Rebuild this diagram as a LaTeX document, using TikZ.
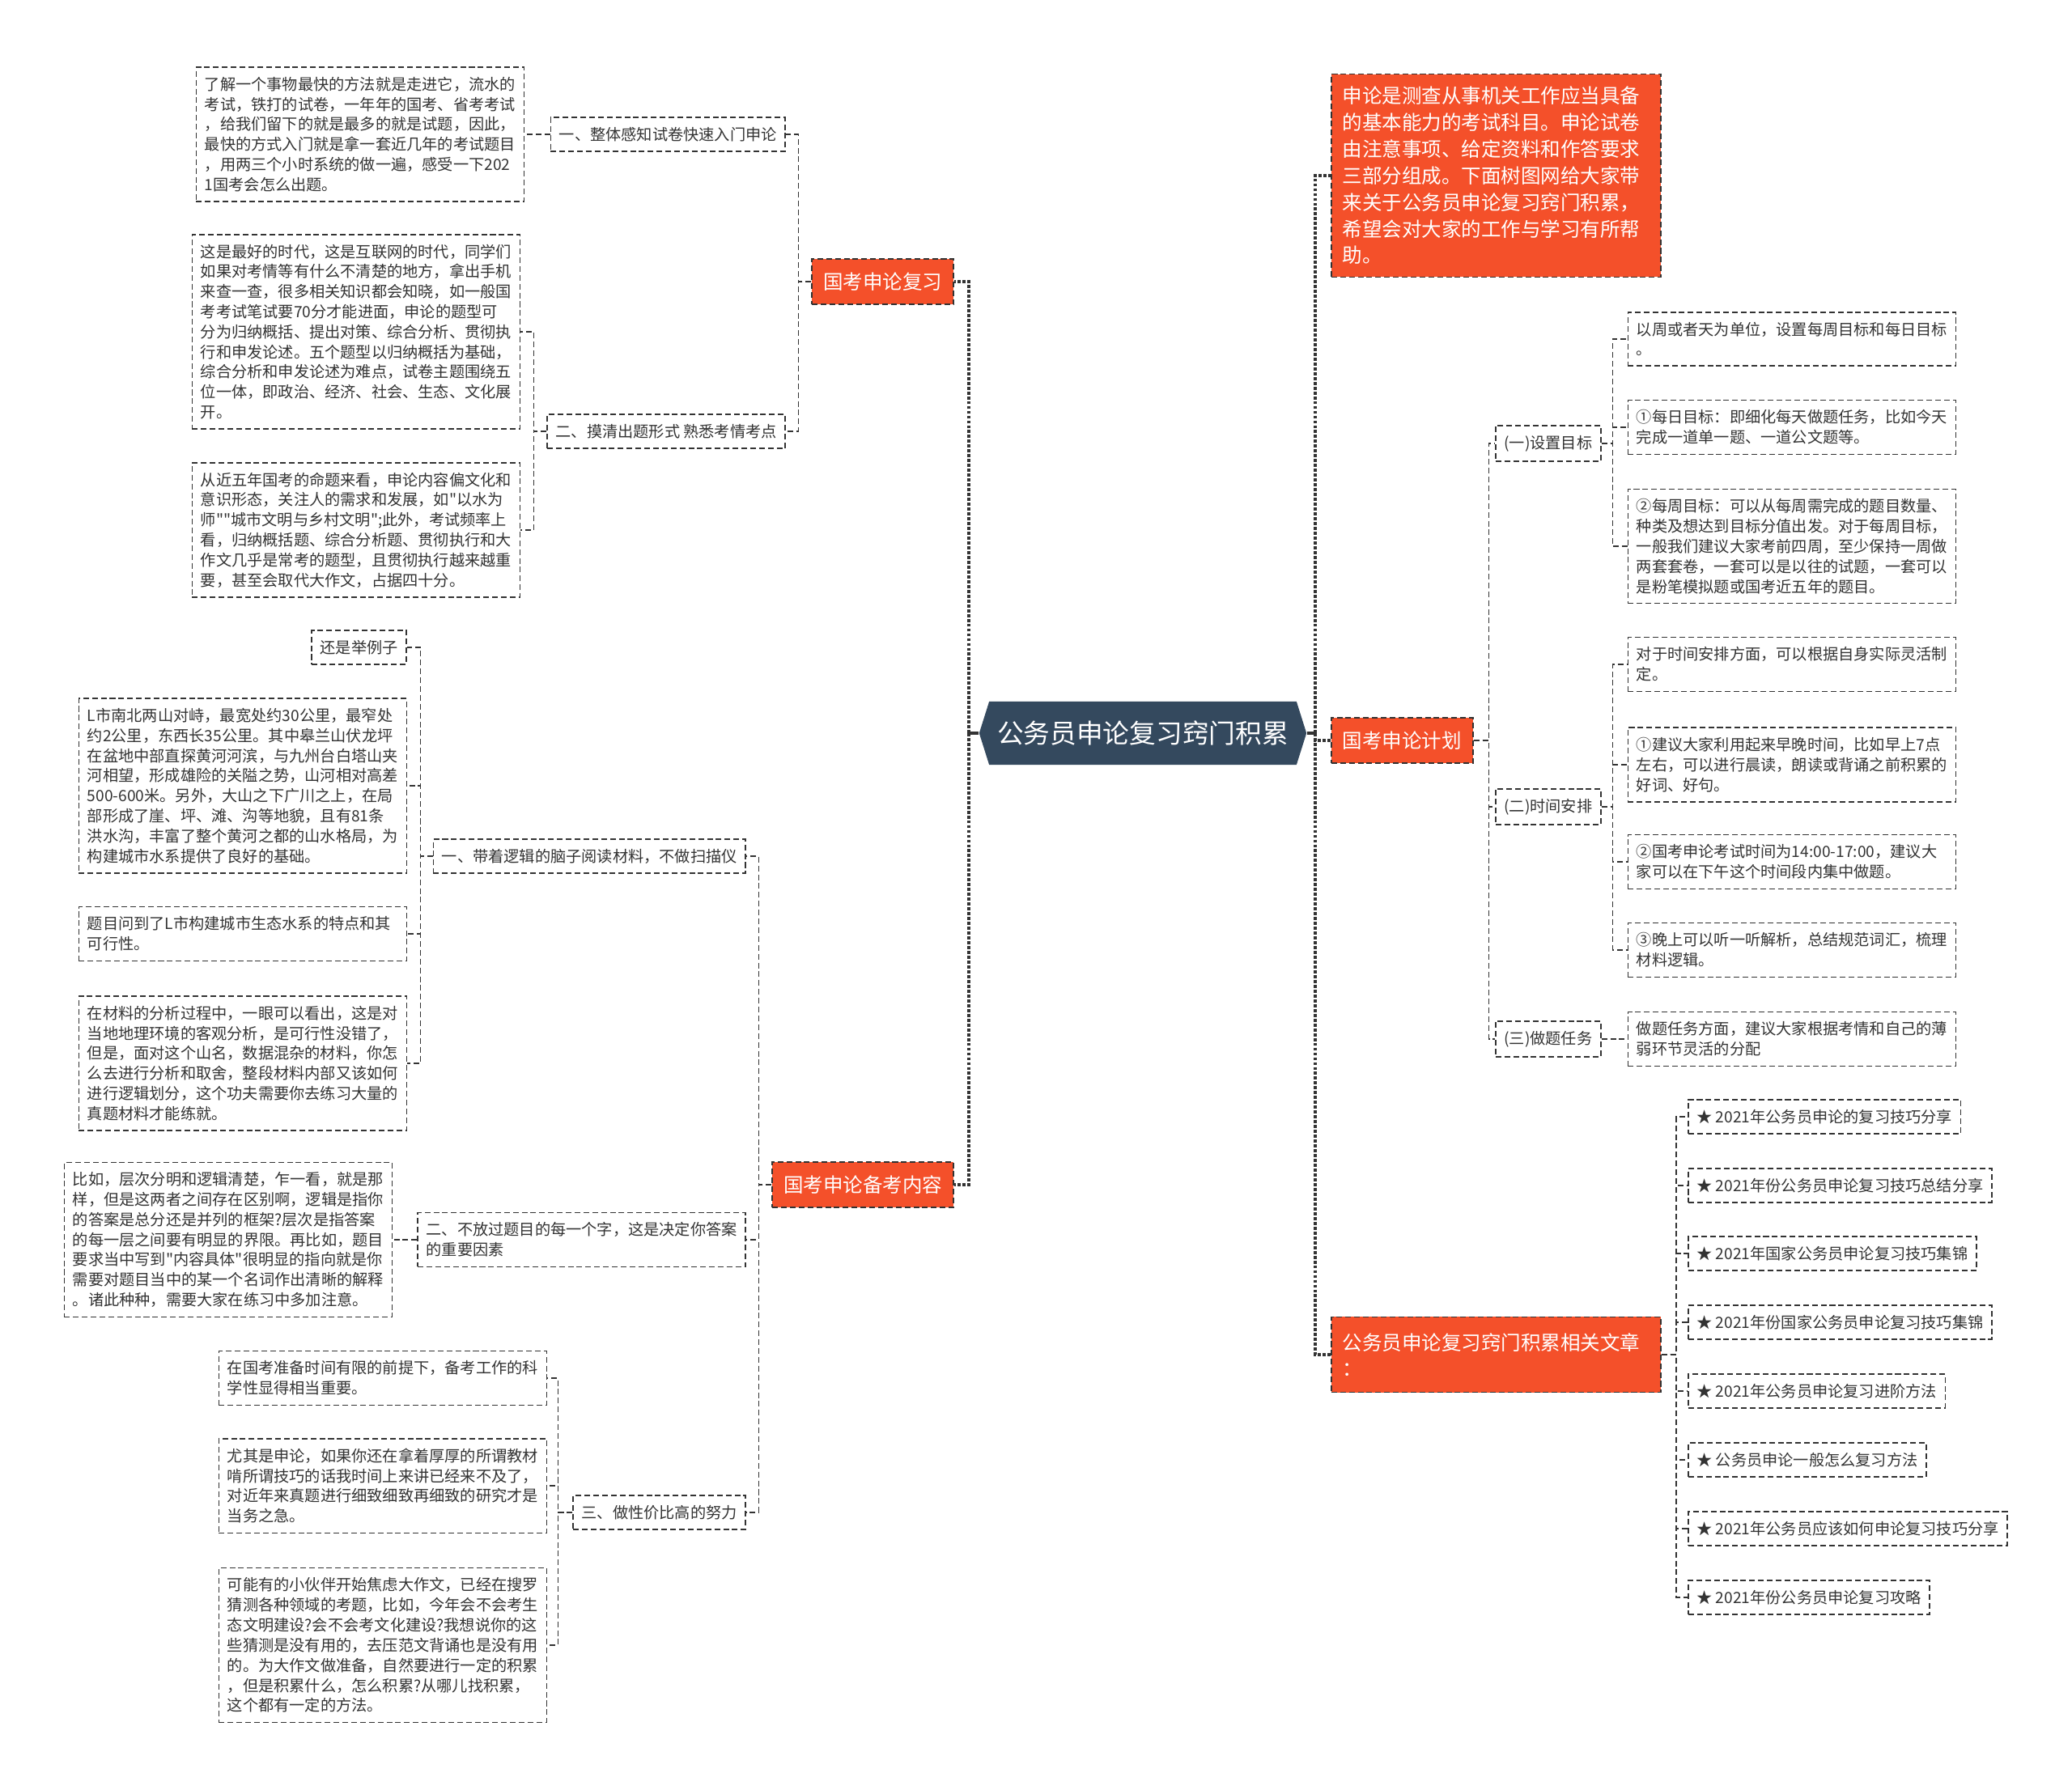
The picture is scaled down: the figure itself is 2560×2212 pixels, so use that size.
\documentclass[tikz,border=0pt]{standalone}
\usepackage{fontspec}
\setmainfont{Noto Sans CJK SC}[Ligatures=TeXOff]
\usetikzlibrary{shapes.symbols}
\definecolor{ink}{HTML}{333333}
\definecolor{flame}{HTML}{F4502A}
\definecolor{slate}{HTML}{34495E}
\newcommand\leaffont{\fontsize{5.46pt}{7.06pt}\selectfont}
\newcommand\headfont{\fontsize{6.97pt}{9.33pt}\selectfont}
\newcommand\rootfont{\fontsize{9.3pt}{11pt}\selectfont}
\tikzset{
  box/.style={draw=ink,line width=0.45pt,dash pattern=on 2pt off 1.1pt,text=ink,font=\leaffont,align=left,inner xsep=1.05mm,inner ysep=1.2mm},
  leaf/.style={box,text width=3.84cm},
  head/.style={box,fill=flame,text=white,font=\headfont,inner xsep=1.4mm,minimum height=0.56cm},
  wide/.style={head,text width=3.79cm,inner ysep=1.55mm},
  root/.style={signal,signal to=east and west,signal pointer angle=145,fill=slate,text=white,font=\rootfont,minimum width=3.97cm,minimum height=0.78cm,inner xsep=1mm},
  conn/.style={draw=ink,line width=0.45pt,dash pattern=on 2pt off 1.1pt},
  trunk/.style={draw=ink,line width=0.9pt,dash pattern=on 1.1pt off 0.6pt}
}
\begin{document}
\begin{tikzpicture}[x=0.01cm,y=-0.01cm]
  \useasboundingbox[fill=white] (0,0) rectangle (2560,2212);
  \node[root] (c) at (1412,906) {公务员申论复习窍门积累};
  \coordinate (lj) at (1197,906);
  \coordinate (rj) at (1625,906);

  % left half
  \node[head,anchor=east] (b1) at (1179,348) {国考申论复习};
  \node[head,anchor=east] (b2) at (1179,1464) {国考申论备考内容};

  \node[box,anchor=east] (s1) at (971,166) {一、整体感知试卷快速入门申论};
  \node[box,anchor=east] (s2) at (971,533) {二、摸清出题形式 熟悉考情考点};
  \node[leaf] (a1) at (445,166)
    {了解一个事物最快的方法就是走进它，流水的\\考试，铁打的试卷，一年年的国考、省考考试\\，给我们留下的就是最多的就是试题，因此，\\最快的方式入门就是拿一套近几年的考试题目\\，用两三个小时系统的做一遍，感受一下202\\1国考会怎么出题。};
  \node[leaf] (a2) at (440,410)
    {这是最好的时代，这是互联网的时代，同学们\\如果对考情等有什么不清楚的地方，拿出手机\\来查一查，很多相关知识都会知晓，如一般国\\考考试笔试要70分才能进面，申论的题型可\\分为归纳概括、提出对策、综合分析、贯彻执\\行和申发论述。五个题型以归纳概括为基础，\\综合分析和申发论述为难点，试卷主题围绕五\\位一体，即政治、经济、社会、生态、文化展\\开。};
  \node[leaf] (a3) at (440,655)
    {从近五年国考的命题来看，申论内容偏文化和\\意识形态，关注人的需求和发展，如"以水为\\师""城市文明与乡村文明";此外，考试频率上\\看，归纳概括题、综合分析题、贯彻执行和大\\作文几乎是常考的题型，且贯彻执行越来越重\\要，甚至会取代大作文，占据四十分。};

  \node[box,anchor=east] (t1) at (922,1058) {一、带着逻辑的脑子阅读材料，不做扫描仪};
  \node[box,anchor=east] (t2) at (922,1532) {二、不放过题目的每一个字，这是决定你答案\\的重要因素};
  \node[box,anchor=east] (t3) at (922,1869) {三、做性价比高的努力};
  \node[box,anchor=east] (m1) at (503,800) {还是举例子};
  \node[leaf] (m2) at (300,971)
    {L市南北两山对峙，最宽处约30公里，最窄处\\约2公里，东西长35公里。其中皋兰山伏龙坪\\在盆地中部直探黄河河滨，与九州台白塔山夹\\河相望，形成雄险的关隘之势，山河相对高差\\500-600米。另外，大山之下广川之上，在局\\部形成了崖、坪、滩、沟等地貌，且有81条\\洪水沟，丰富了整个黄河之都的山水格局，为\\构建城市水系提供了良好的基础。};
  \node[leaf] (m3) at (300,1154)
    {题目问到了L市构建城市生态水系的特点和其\\可行性。};
  \node[leaf] (m4) at (300,1314)
    {在材料的分析过程中，一眼可以看出，这是对\\当地地理环境的客观分析，是可行性没错了，\\但是，面对这个山名，数据混杂的材料，你怎\\么去进行分析和取舍，整段材料内部又该如何\\进行逻辑划分，这个功夫需要你去练习大量的\\真题材料才能练就。};
  \node[leaf] (m5) at (282,1532)
    {比如，层次分明和逻辑清楚，乍一看，就是那\\样，但是这两者之间存在区别啊，逻辑是指你\\的答案是总分还是并列的框架?层次是指答案\\的每一层之间要有明显的界限。再比如，题目\\要求当中写到"内容具体"很明显的指向就是你\\需要对题目当中的某一个名词作出清晰的解释\\。诸此种种，需要大家在练习中多加注意。};
  \node[leaf] (m6) at (473,1703)
    {在国考准备时间有限的前提下，备考工作的科\\学性显得相当重要。};
  \node[leaf] (m7) at (473,1836)
    {尤其是申论，如果你还在拿着厚厚的所谓教材\\啃所谓技巧的话我时间上来讲已经来不及了，\\对近年来真题进行细致细致再细致的研究才是\\当务之急。};
  \node[leaf] (m8) at (473,2033)
    {可能有的小伙伴开始焦虑大作文，已经在搜罗\\猜测各种领域的考题，比如，今年会不会考生\\态文明建设?会不会考文化建设?我想说你的这\\些猜测是没有用的，去压范文背诵也是没有用\\的。为大作文做准备，自然要进行一定的积累\\，但是积累什么，怎么积累?从哪儿找积累，\\这个都有一定的方法。};

  % right half
  \node[wide,anchor=west] (intro) at (1644,217)
    {申论是测查从事机关工作应当具备\\的基本能力的考试科目。申论试卷\\由注意事项、给定资料和作答要求\\三部分组成。下面树图网给大家带\\来关于公务员申论复习窍门积累，\\希望会对大家的工作与学习有所帮\\助。};
  \node[head,anchor=west] (b3) at (1644,915) {国考申论计划};
  \node[wide,anchor=west,minimum height=0.93cm] (b4) at (1644,1674) {公务员申论复习窍门积累相关文章\\：};

  \node[box,anchor=west] (p1) at (1847,548) {(一)设置目标};
  \node[box,anchor=west] (p2) at (1847,997) {(二)时间安排};
  \node[box,anchor=west] (p3) at (1847,1284) {(三)做题任务};
  \node[leaf] (q1) at (2214,419) {以周或者天为单位，设置每周目标和每日目标\\。};
  \node[leaf] (q2) at (2214,528) {①每日目标：即细化每天做题任务，比如今天\\完成一道单一题、一道公文题等。};
  \node[leaf] (q3) at (2214,675)
    {②每周目标：可以从每周需完成的题目数量、\\种类及想达到目标分值出发。对于每周目标，\\一般我们建议大家考前四周，至少保持一周做\\两套套卷，一套可以是以往的试题，一套可以\\是粉笔模拟题或国考近五年的题目。};
  \node[leaf] (q4) at (2214,821) {对于时间安排方面，可以根据自身实际灵活制\\定。};
  \node[leaf] (q5) at (2214,945) {①建议大家利用起来早晚时间，比如早上7点\\左右，可以进行晨读，朗读或背诵之前积累的\\好词、好句。};
  \node[leaf] (q6) at (2214,1065) {②国考申论考试时间为14:00-17:00，建议大\\家可以在下午这个时间段内集中做题。};
  \node[leaf] (q7) at (2214,1174) {③晚上可以听一听解析，总结规范词汇，梳理\\材料逻辑。};
  \node[leaf] (q8) at (2214,1284) {做题任务方面，建议大家根据考情和自己的薄\\弱环节灵活的分配};

  \node[box,anchor=west] (r1) at (2085,1380) {★ 2021年公务员申论的复习技巧分享};
  \node[box,anchor=west] (r2) at (2085,1465) {★ 2021年份公务员申论复习技巧总结分享};
  \node[box,anchor=west] (r3) at (2085,1549) {★ 2021年国家公务员申论复习技巧集锦};
  \node[box,anchor=west] (r4) at (2085,1634) {★ 2021年份国家公务员申论复习技巧集锦};
  \node[box,anchor=west] (r5) at (2085,1719) {★ 2021年公务员申论复习进阶方法};
  \node[box,anchor=west] (r6) at (2085,1804) {★ 公务员申论一般怎么复习方法};
  \node[box,anchor=west] (r7) at (2085,1889) {★ 2021年公务员应该如何申论复习技巧分享};
  \node[box,anchor=west] (r8) at (2085,1974) {★ 2021年份公务员申论复习攻略};

  % connectors
  \draw[ink,line width=0.9pt] (c.west) -- (lj); \draw[ink,line width=0.9pt] (c.east) -- (rj);
  \draw[trunk] (lj) |- (b1.east); \draw[trunk] (lj) |- (b2.east);
  \draw[trunk] (rj) |- (intro.west); \draw[trunk] (rj) |- (b3.west); \draw[trunk] (rj) |- (b4.west);

  \draw[conn] (b1.west) -- ++(-16,0) |- (s1.east); \draw[conn] (b1.west) -- ++(-16,0) |- (s2.east);
  \draw[conn] (s1.west) -- (a1.east);
  \draw[conn] (s2.west) -- ++(-16,0) |- (a2.east); \draw[conn] (s2.west) -- ++(-16,0) |- (a3.east);

  \draw[conn] (b2.west) -- ++(-16,0) |- (t1.east); \draw[conn] (b2.west) -- ++(-16,0) |- (t2.east);
  \draw[conn] (b2.west) -- ++(-16,0) |- (t3.east);
  \draw[conn] (t1.west) -- ++(-15,0) |- (m1.east); \draw[conn] (t1.west) -- ++(-15,0) |- (m2.east);
  \draw[conn] (t1.west) -- ++(-15,0) |- (m3.east); \draw[conn] (t1.west) -- ++(-15,0) |- (m4.east);
  \draw[conn] (t2.west) -- (m5.east);
  \draw[conn] (t3.west) -- ++(-18,0) |- (m6.east); \draw[conn] (t3.west) -- ++(-18,0) |- (m7.east);
  \draw[conn] (t3.west) -- ++(-18,0) |- (m8.east);

  \draw[conn] (b3.east) -- ++(19,0) |- (p1.west); \draw[conn] (b3.east) -- ++(19,0) |- (p2.west);
  \draw[conn] (b3.east) -- ++(19,0) |- (p3.west);
  \draw[conn] (p1.east) -- ++(14,0) |- (q1.west); \draw[conn] (p1.east) -- ++(14,0) |- (q2.west);
  \draw[conn] (p1.east) -- ++(14,0) |- (q3.west);
  \draw[conn] (p2.east) -- ++(14,0) |- (q4.west); \draw[conn] (p2.east) -- ++(14,0) |- (q5.west);
  \draw[conn] (p2.east) -- ++(14,0) |- (q6.west); \draw[conn] (p2.east) -- ++(14,0) |- (q7.west);
  \draw[conn] (p3.east) -- (q8.west);

  \draw[conn] (b4.east) -- ++(18,0) |- (r1.west); \draw[conn] (b4.east) -- ++(18,0) |- (r2.west);
  \draw[conn] (b4.east) -- ++(18,0) |- (r3.west); \draw[conn] (b4.east) -- ++(18,0) |- (r4.west);
  \draw[conn] (b4.east) -- ++(18,0) |- (r5.west); \draw[conn] (b4.east) -- ++(18,0) |- (r6.west);
  \draw[conn] (b4.east) -- ++(18,0) |- (r7.west); \draw[conn] (b4.east) -- ++(18,0) |- (r8.west);
\end{tikzpicture}
\end{document}
